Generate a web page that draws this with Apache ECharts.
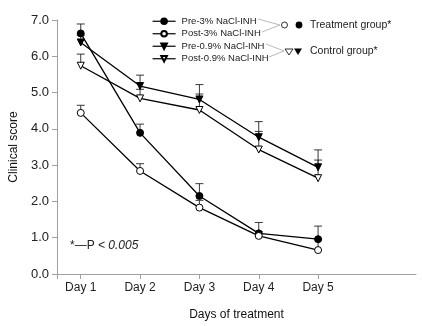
<!DOCTYPE html>
<html>
<head>
<meta charset="utf-8">
<script src="https://cdn.jsdelivr.net/npm/echarts@6/dist/echarts.min.js"></script>
<style>
  html, body { margin: 0; padding: 0; background: #fff; }
  #chart { width: 422px; height: 326px; }
</style>
</head>
<body>
<div id="chart"></div>
<script>
// data
const days = [1, 2, 3, 4, 5]
const dayLabels = ['Day 1', 'Day 2', 'Day 3', 'Day 4', 'Day 5']
const yTicks = [0, 1, 2, 3, 4, 5, 6, 7]
const pre3 = [6.63, 3.89, 2.15, 1.12, 0.96]
const post3 = [4.44, 2.84, 1.83, 1.05, 0.66]
const pre09 = [6.38, 5.18, 4.81, 3.77, 2.94]
const post09 = [5.74, 4.84, 4.52, 3.43, 2.64]
const pre3Err = [0.26, 0.24, 0.34, 0.3, 0.36]
const post3Err = [0.21, 0.2, 0.2, 0.12, 0.28]
const pre09Err = [0.2, 0.3, 0.41, 0.43, 0.48]
const post09Err = [0.32, 0.25, 0.44, 0.5, 0.5]

const font = 'Liberation Sans'

// 误差线 (upper bar + cap)
function errSeries (vals, errs) {
  return {
    type: 'custom',
    z: 1,
    silent: true,
    data: days.map((d, i) => [d, vals[i], errs[i]]),
    renderItem (params, api) {
      let x = api.value(0)
      let y = api.value(1)
      let e = api.value(2)
      let p0 = api.coord([x, y])
      let p1 = api.coord([x, y + e])
      let st = { stroke: '#222', lineWidth: 0.9 }
      return {
        type: 'group',
        children: [
          { type: 'line', shape: { x1: p0[0], y1: p0[1], x2: p1[0], y2: p1[1] }, style: st },
          { type: 'line', shape: { x1: p1[0] - 4, y1: p1[1], x2: p1[0] + 4, y2: p1[1] }, style: st }
        ]
      }
    }
  }
}

function lineSeries (name, vals, symbol, filled, rotate) {
  return {
    name: name,
    type: 'line',
    z: 2,
    data: days.map((d, i) => [d, vals[i]]),
    symbol: symbol,
    symbolSize: 7,
    symbolRotate: rotate || 0,
    showAllSymbol: true,
    lineStyle: { color: '#000', width: 1.3 },
    itemStyle: { color: filled ? '#000' : '#fff', borderColor: '#000', borderWidth: 1 }
  }
}

let chart = echarts.init(document.getElementById('chart'))
let gray = '#a0a0a0'
chart.setOption({
  animation: false,
  grid: { left: 53, right: 6, top: 20, bottom: 52 },
  legend: {
    orient: 'vertical',
    left: 147,
    top: 10,
    itemWidth: 23,
    itemHeight: 7,
    itemGap: 0,
    lineStyle: { width: 1.2 },
    data: ['Pre-3% NaCl-INH', 'Post-3% NaCl-INH', 'Pre-0.9% NaCl-INH', 'Post-0.9% NaCl-INH'],
    textStyle: { fontFamily: font, fontSize: 9.5, color: '#222', lineHeight: 12.5, padding: [0, 0, 0, 1] }
  },
  xAxis: {
    type: 'value',
    min: 0.6,
    max: 6.65,
    name: 'Days of treatment',
    nameLocation: 'middle',
    nameGap: 35,
    nameTextStyle: { fontFamily: font, fontSize: 12, color: '#111' },
    axisLine: { lineStyle: { color: gray } },
    axisTick: { customValues: [0.6].concat(days), length: 5, lineStyle: { color: gray } },
    axisLabel: {
      customValues: days,
      formatter: v => dayLabels[days.indexOf(v)],
      fontFamily: font, fontSize: 12, color: '#222', margin: 8
    },
    splitLine: { show: false }
  },
  yAxis: {
    type: 'value',
    min: yTicks[0],
    max: yTicks[yTicks.length - 1],
    interval: 1,
    name: 'Clinical score',
    nameLocation: 'middle',
    nameGap: 37,
    nameTextStyle: { fontFamily: font, fontSize: 12, color: '#111' },
    axisLine: { show: true, lineStyle: { color: gray } },
    axisTick: { show: true, length: 5, lineStyle: { color: gray } },
    axisLabel: { formatter: v => v.toFixed(1), fontFamily: font, fontSize: 13, color: '#222', margin: 8 },
    splitLine: { show: false }
  },
  graphic: [
    // 图例连线
    { type: 'polyline', shape: { points: [[258, 19], [280, 25], [262, 32]] }, style: { stroke: '#aaa', lineWidth: 0.8, fill: null } },
    { type: 'polyline', shape: { points: [[266, 44], [284, 51], [269, 57]] }, style: { stroke: '#aaa', lineWidth: 0.8, fill: null } },
    { type: 'circle', shape: { cx: 284.5, cy: 25, r: 3 }, style: { fill: '#fff', stroke: '#000', lineWidth: 0.8 } },
    { type: 'circle', shape: { cx: 299, cy: 25, r: 3.4 }, style: { fill: '#000' } },
    { type: 'polygon', shape: { points: [[285, 49], [293, 49], [289, 55]] }, style: { fill: '#fff', stroke: '#000', lineWidth: 0.8 } },
    { type: 'polygon', shape: { points: [[294, 48.5], [302, 48.5], [298, 55]] }, style: { fill: '#000' } },
    { type: 'text', left: 310, top: 19.5, style: { text: 'Treatment group*', fontFamily: font, fontSize: 10.5, fill: '#222' } },
    { type: 'text', left: 310, top: 46, style: { text: 'Control group*', fontFamily: font, fontSize: 10.5, fill: '#222' } },
    {
      type: 'text', left: 70, top: 240,
      style: {
        text: '{a|*—P} {b|< 0.005}',
        rich: {
          a: { fontFamily: font, fontSize: 12, fill: '#222' },
          b: { fontFamily: font, fontSize: 12, fontStyle: 'italic', fill: '#222' }
        }
      }
    }
  ],
  series: [
    errSeries(pre3, pre3Err),
    errSeries(post3, post3Err),
    errSeries(pre09, pre09Err),
    errSeries(post09, post09Err),
    lineSeries('Pre-3% NaCl-INH', pre3, 'circle', true),
    lineSeries('Post-3% NaCl-INH', post3, 'circle', false),
    lineSeries('Pre-0.9% NaCl-INH', pre09, 'triangle', true, 180),
    lineSeries('Post-0.9% NaCl-INH', post09, 'triangle', false, 180)
  ]
})
</script>
</body>
</html>
